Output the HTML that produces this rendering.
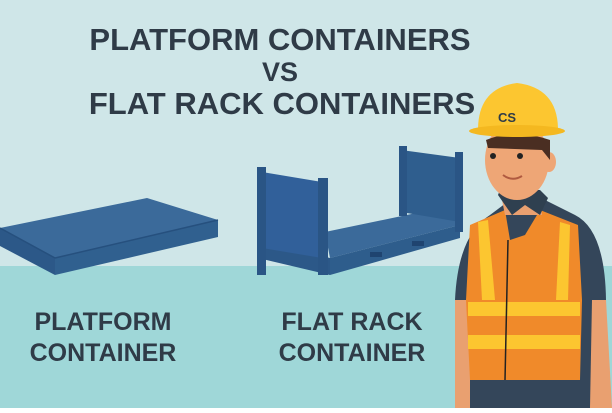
<!DOCTYPE html>
<html><head><style>
body{margin:0;width:612px;height:408px;overflow:hidden;font-family:"Liberation Sans",sans-serif}
</style></head><body>
<svg width="612" height="408" viewBox="0 0 612 408" xmlns="http://www.w3.org/2000/svg">
<rect width="612" height="408" fill="#cfe6e8"/>
<rect y="266" width="612" height="142" fill="#9fd7d8"/>
<g font-family="Liberation Sans, sans-serif" font-weight="bold" fill="#2f3b47" text-anchor="middle">
<text x="280" y="50" font-size="31">PLATFORM CONTAINERS</text>
<text x="280" y="81" font-size="27">VS</text>
<text x="282" y="114" font-size="31">FLAT RACK CONTAINERS</text>
<text x="103" y="330" font-size="25">PLATFORM</text>
<text x="103" y="361" font-size="25">CONTAINER</text>
<text x="352" y="330" font-size="25">FLAT RACK</text>
<text x="352" y="361" font-size="25">CONTAINER</text>
</g>
<!-- platform container -->
<polygon points="0,228 147,198 218,220 55,258" fill="#3b6a9a"/>
<polygon points="0,228 55,258 55,275 0,246" fill="#2c5888"/>
<polygon points="55,258 218,220 218,237 55,275" fill="#30608f"/>
<line x1="0" y1="228" x2="55" y2="258" stroke="#26507e" stroke-width="1.5"/>
<line x1="55" y1="258" x2="218" y2="220" stroke="#26507e" stroke-width="1.5"/>
<!-- flat rack -->
<polygon points="325,232 445,207 460,225 330,258" fill="#3b6a9a"/>
<polygon points="330,258 460,225 460,238 330,275" fill="#2e5d8c"/>
<polygon points="258,240 330,258 330,275 258,258" fill="#2c5888"/>
<polygon points="401,150 460,158 460,222 401,212" fill="#2f5e8e"/>
<rect x="399" y="146" width="8" height="70" fill="#2a5585"/>
<rect x="455" y="152" width="8" height="80" fill="#2a5585"/>
<polygon points="262,172 322,182 322,258 262,248" fill="#31609a"/>
<rect x="257" y="167" width="9" height="108" fill="#2a5585"/>
<rect x="318" y="178" width="10" height="97" fill="#2a5585"/>
<rect x="370" y="252" width="12" height="5" fill="#1f4470"/>
<rect x="412" y="241" width="12" height="5" fill="#1f4470"/>
<!-- worker -->
<path d="M455,300 Q458,235 490,215 L510,200 L545,200 L575,215 Q605,230 606,300 L606,408 L455,408 Z" fill="#34465a"/>
<path d="M455,300 L468,300 L475,408 L455,408 Z" fill="#e9a070"/>
<path d="M592,300 L606,300 L612,408 L590,408 Z" fill="#e9a070"/>
<path d="M470,225 L505,210 L510,240 L525,235 L540,210 L578,225 L582,300 L580,380 L470,380 L466,300 Z" fill="#f08a2a"/>
<rect x="468" y="302" width="112" height="14" fill="#fcc630"/>
<rect x="468" y="335" width="112" height="14" fill="#fcc630"/>
<path d="M478,222 L488,220 L495,300 L482,300 Z" fill="#fcc630"/>
<path d="M560,222 L570,225 L568,300 L556,300 Z" fill="#fcc630"/>
<line x1="508" y1="240" x2="505" y2="380" stroke="#222" stroke-width="1.5"/>
<rect x="470" y="380" width="110" height="28" fill="#34465a"/>
<path d="M500,190 L540,190 L542,215 L505,215 Z" fill="#e9a070"/>
<path d="M498,195 L512,215 L525,205 L540,215 L548,198 L540,190 L500,190 Z" fill="#2f4050"/>
<ellipse cx="517" cy="160" rx="32" ry="40" fill="#eea676"/>
<ellipse cx="549" cy="162" rx="7" ry="10" fill="#eea676"/>
<path d="M486,140 Q515,128 550,140 L550,160 L542,150 L488,148 Z" fill="#4a2e22"/>
<circle cx="493" cy="156" r="3" fill="#222"/>
<circle cx="520" cy="156" r="3" fill="#222"/>
<path d="M503,175 Q512,182 522,176" stroke="#b05a40" stroke-width="2" fill="none"/>
<path d="M478,130 Q478,88 517,83 Q558,88 558,130 Z" fill="#fcc630"/>
<ellipse cx="517" cy="131" rx="48" ry="6" fill="#f4b820"/>
<text x="507" y="122" font-family="Liberation Sans, sans-serif" font-weight="bold" font-size="13" fill="#2f3b47" text-anchor="middle">CS</text>
</svg>
</body></html>
